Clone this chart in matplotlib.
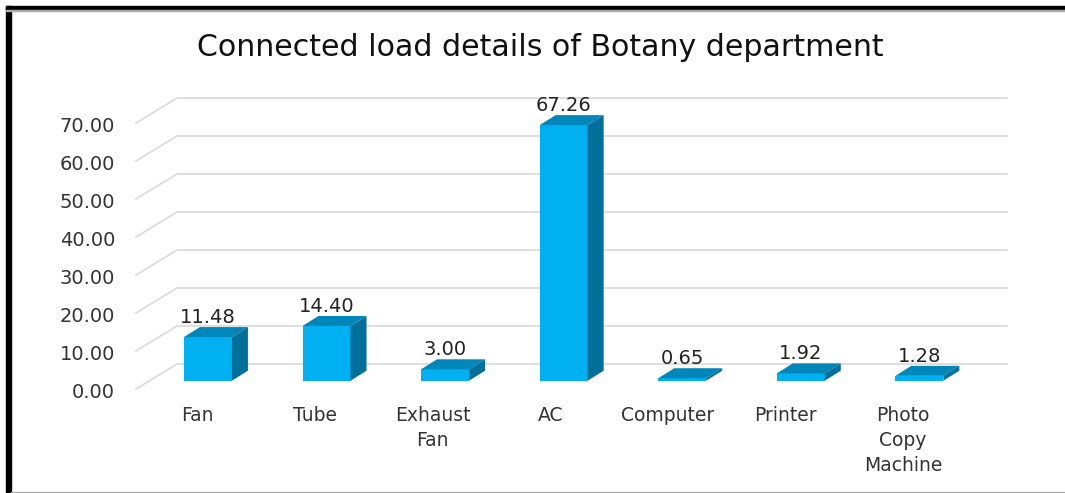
import matplotlib
matplotlib.use("Agg")
from matplotlib import pyplot as plt
from matplotlib.patches import Rectangle
from matplotlib.transforms import ScaledTranslation

categories = ["Fan", "Tube", "Exhaust\nFan", "AC", "Computer", "Printer", "Photo\nCopy\nMachine"]
values = [11.48, 14.40, 3.00, 67.26, 0.65, 1.92, 1.28]
value_labels = ["11.48", "14.40", "3.00", "67.26", "0.65", "1.92", "1.28"]
y_ticks = [0, 10, 20, 30, 40, 50, 60, 70]

W, H = 1065, 493
plt.rcParams["font.family"] = "DejaVu Sans"
fig = plt.figure(figsize=(W / 100, H / 100), dpi=100, facecolor="white")

# frame of the screenshot
fig.add_artist(Rectangle((6 / W, 0), 5 / W, 487 / H, color="black", transform=fig.transFigure))
fig.add_artist(Rectangle((6 / W, 1 - 10 / H), 1 - 6 / W, 4 / H, color="black", transform=fig.transFigure))
fig.add_artist(Rectangle((6 / W, 1 - 11.2 / H), 1 - 6 / W, 1.2 / H, color="#aaaaaa", transform=fig.transFigure))
fig.add_artist(Rectangle((11 / W, 0), 1 - 11 / W, 1.3 / H, color="#aaaaaa", transform=fig.transFigure))

# axes = front edge of the 3d floor
ax = fig.add_axes([136 / W, 1 - 389 / H, 830 / W, 266 / H])
ax.set_xlim(-0.5, 6.5)
ax.set_ylim(0, 70)
for s in ax.spines.values():
    s.set_visible(False)
ax.patch.set_visible(False)

# size of one pixel in data units
px_x = 7 / 830
px_y = 70 / 266

# gridlines: diagonal on the side wall + line on the back wall
depth_x = 41 * px_x
depth_y = 25 * px_y
for t in y_ticks:
    ax.plot([-0.5, -0.5 + depth_x, 6.5 + depth_x], [t, t + depth_y, t + depth_y],
            color="#dcdcdc", lw=1.3, clip_on=False, zorder=1, solid_joinstyle="miter")

# 3d bars
off_x = 12.65 * px_x
off_y = 8.3 * px_y
bar_w = 48 * px_x
dx = 16 * px_x
dy = 10 * px_y
for i, v in enumerate(values):
    x0 = i + off_x - bar_w / 2
    x1 = x0 + bar_w
    y0 = off_y
    y1 = off_y + v
    ax.bar(i + off_x, v, width=bar_w, bottom=y0, color="#00b0f0", clip_on=False, zorder=3)
    ax.fill([x0, x1, x1 + dx, x0 + dx], [y1, y1, y1 + dy, y1 + dy], color="#0086b8", lw=0, clip_on=False, zorder=3)
    ax.fill([x1, x1 + dx, x1 + dx, x1], [y0, y0 + dy, y1 + dy, y1], color="#006f9a", lw=0, clip_on=False, zorder=3)
    ax.annotate(value_labels[i], (i + off_x, y1 + dy), xytext=(0, 0), textcoords="offset points",
                ha="center", va="bottom", fontsize=14, color="#222222", zorder=4, annotation_clip=False)

ax.set_yticks(y_ticks)
ax.set_yticklabels(["%.2f" % t for t in y_ticks])
# category labels sit a little tighter than the bars
ax.set_xticks([i * 0.992 + 2 * px_x for i in range(len(categories))])
ax.set_xticklabels(categories, linespacing=1.42)
ax.tick_params(axis="y", length=0, pad=15, labelsize=14, labelcolor="#333333")
ax.tick_params(axis="x", length=0, pad=12, labelsize=13.5, labelcolor="#333333")
nudge = ScaledTranslation(0, -1 / 100, fig.dpi_scale_trans)
for lab in ax.get_yticklabels():
    lab.set_transform(lab.get_transform() + nudge)

fig.text(540 / W, 1 - 47 / H, "Connected load details of Botany department",
         ha="center", va="center", fontsize=21.6, color="#111111")

fig.savefig("out.png", dpi=100)
